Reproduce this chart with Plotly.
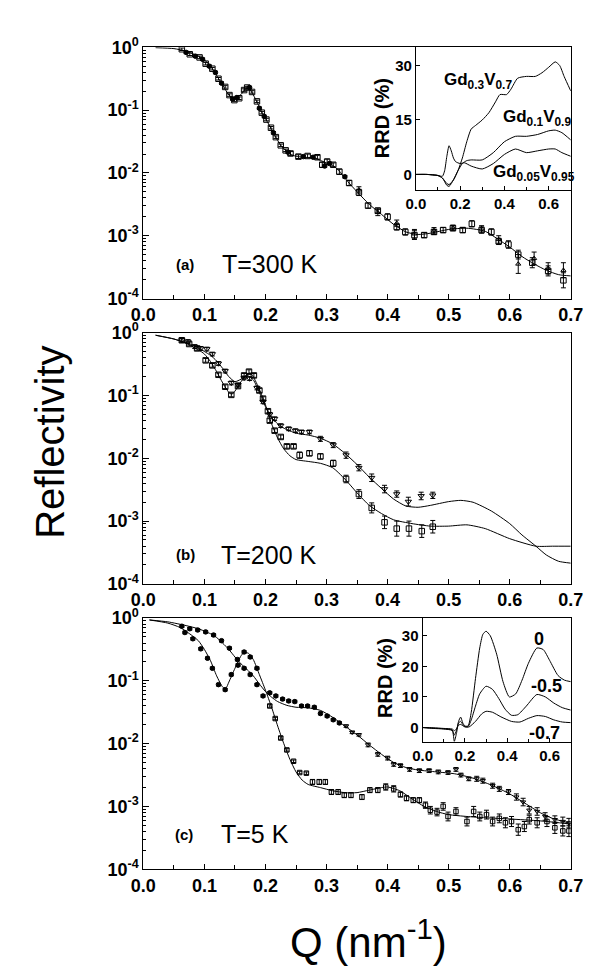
import numpy as np
import plotly.graph_objects as go

W, H = 592, 967
FONT = "Arial, Liberation Sans, sans-serif"

# ---------------- Panel (a) T=300 K ----------------
a_fit_Q = [0.02,0.05,0.07,0.09,0.10,0.11,0.12,0.13,0.14,0.15,0.16,0.168,0.175,0.185,0.195,0.205,0.215,0.225,0.235,0.245,0.26,0.28,0.29,0.30,0.31,0.32,0.335,0.35,0.37,0.39,0.41,0.43,0.45,0.47,0.50,0.53,0.56,0.58,0.60,0.62,0.64,0.66,0.68,0.70]
a_fit_logR = [-0.005,-0.02,-0.06,-0.14,-0.2,-0.3,-0.45,-0.6,-0.76,-0.82,-0.75,-0.66,-0.68,-0.85,-1.05,-1.22,-1.4,-1.56,-1.66,-1.72,-1.75,-1.76,-1.8,-1.84,-1.88,-1.96,-2.14,-2.3,-2.5,-2.66,-2.82,-2.94,-2.98,-2.96,-2.9,-2.88,-2.93,-3.05,-3.18,-3.33,-3.45,-3.55,-3.62,-3.64]

a1_Q = [0.063,0.076,0.092,0.102,0.113,0.123,0.134,0.141,0.149,0.157,0.165,0.170,0.178,0.186,0.194,0.2015,0.209,0.217,0.225,0.233,0.241,0.254,0.269,0.285,0.293,0.301,0.311,0.321,0.337,0.353,0.368,0.384,0.400,0.415,0.429,0.444,0.460,0.476,0.491,0.507,0.523,0.538,0.554,0.570,0.582,0.598,0.614,0.637,0.663,0.688]
a1_logR = [-0.03,-0.11,-0.16,-0.26,-0.34,-0.50,-0.63,-0.76,-0.84,-0.81,-0.68,-0.64,-0.71,-0.86,-1.04,-1.15,-1.28,-1.43,-1.56,-1.64,-1.69,-1.74,-1.73,-1.75,-1.87,-1.82,-1.87,-1.98,-2.16,-2.31,-2.52,-2.60,-2.70,-2.86,-2.94,-2.99,-2.99,-2.94,-2.91,-2.88,-2.91,-2.81,-2.91,-2.94,-3.09,-3.14,-3.30,-3.43,-3.56,-3.71]
a1_err = [0.02]*20 + [0.03,0.03,0.03,0.03,0.04,0.04,0.03,0.04,0.04,0.05,0.04,0.04,0.05,0.05,0.05,0.07,0.04,0.04,0.04,0.04,0.04,0.05,0.05,0.05,0.05,0.06,0.07,0.08,0.08,0.12]

a2_Q = [0.070,0.085,0.097,0.108,0.118,0.128,0.146,0.153,0.174,0.190,0.198,0.213,0.237,0.262,0.278,0.297,0.305,0.330,0.353,0.384,0.415,0.444,0.476,0.507,0.554,0.582,0.614,0.640,0.663,0.688]
a2_logR = [-0.08,-0.14,-0.19,-0.30,-0.40,-0.57,-0.82,-0.80,-0.64,-0.97,-1.10,-1.36,-1.67,-1.74,-1.75,-1.89,-1.85,-2.06,-2.27,-2.63,-2.80,-2.97,-2.92,-2.87,-2.89,-3.06,-3.45,-3.36,-3.52,-3.55]
a2_err = [0.02]*18 + [0.05,0.05,0.05,0.07,0.05,0.04,0.05,0.06,0.15,0.10,0.09,0.12]

# ---------------- Panel (b) T=200 K ----------------
b_fit1_Q = [0.02,0.05,0.07,0.09,0.10,0.11,0.12,0.13,0.14,0.15,0.16,0.17,0.18,0.19,0.20,0.21,0.22,0.23,0.25,0.27,0.29,0.31,0.33,0.35,0.37,0.39,0.41,0.43,0.45,0.47,0.50,0.52,0.54,0.57,0.60,0.62,0.643,0.66,0.68,0.70]
b_fit1_logR = [-0.04,-0.1,-0.16,-0.24,-0.3,-0.36,-0.45,-0.57,-0.7,-0.78,-0.74,-0.68,-0.75,-0.95,-1.18,-1.35,-1.45,-1.52,-1.6,-1.63,-1.68,-1.77,-1.92,-2.1,-2.3,-2.48,-2.65,-2.76,-2.78,-2.75,-2.69,-2.67,-2.7,-2.84,-3.04,-3.22,-3.40,-3.54,-3.64,-3.67]
b_fit2_Q = [0.02,0.05,0.07,0.09,0.10,0.11,0.12,0.13,0.14,0.145,0.15,0.16,0.17,0.175,0.18,0.19,0.20,0.21,0.22,0.23,0.24,0.25,0.27,0.29,0.31,0.33,0.35,0.37,0.39,0.41,0.44,0.47,0.50,0.53,0.56,0.60,0.643,0.67,0.70]
b_fit2_logR = [-0.04,-0.1,-0.17,-0.27,-0.34,-0.46,-0.62,-0.8,-0.95,-0.98,-0.93,-0.78,-0.66,-0.64,-0.7,-0.9,-1.15,-1.45,-1.68,-1.85,-1.96,-2.02,-2.05,-2.08,-2.15,-2.33,-2.55,-2.75,-2.88,-2.98,-3.04,-3.08,-3.08,-3.06,-3.12,-3.28,-3.40,-3.40,-3.40]

b1_Q = [0.063,0.073,0.084,0.094,0.104,0.113,0.123,0.134,0.144,0.155,0.165,0.174,0.186,0.196,0.207,0.215,0.225,0.238,0.249,0.259,0.272,0.290,0.311,0.332,0.353,0.374,0.395,0.415,0.434,0.455,0.474]
b1_logR = [-0.12,-0.14,-0.22,-0.25,-0.26,-0.34,-0.49,-0.61,-0.80,-0.83,-0.72,-0.73,-0.88,-1.10,-1.30,-1.37,-1.48,-1.53,-1.56,-1.58,-1.58,-1.69,-1.79,-1.95,-2.15,-2.31,-2.49,-2.57,-2.69,-2.60,-2.59]
b1_err = [0.03]*20 + [0.03,0.04,0.04,0.05,0.05,0.06,0.06,0.05,0.07,0.06,0.05]

b2_Q = [0.063,0.075,0.088,0.102,0.113,0.123,0.134,0.144,0.155,0.165,0.173,0.181,0.190,0.196,0.204,0.207,0.215,0.225,0.235,0.246,0.256,0.272,0.290,0.311,0.332,0.353,0.374,0.395,0.415,0.435,0.456,0.474]
b2_logR = [-0.12,-0.18,-0.25,-0.44,-0.52,-0.67,-0.86,-0.99,-0.85,-0.68,-0.62,-0.68,-0.92,-1.05,-1.25,-1.40,-1.56,-1.66,-1.81,-1.81,-1.95,-1.92,-1.97,-2.08,-2.33,-2.57,-2.79,-3.02,-3.12,-3.12,-3.16,-3.09]
b2_err = [0.03]*20 + [0.05,0.04,0.04,0.05,0.06,0.07,0.08,0.10,0.12,0.12,0.10,0.10]

# ---------------- Panel (c) T=5 K ----------------
c_fitA_Q = [0.01,0.04,0.06,0.08,0.09,0.10,0.11,0.12,0.13,0.135,0.14,0.15,0.16,0.165,0.172,0.18,0.19,0.20,0.21,0.22,0.23,0.24,0.25,0.26,0.27,0.29,0.31,0.33,0.35,0.37,0.39,0.40,0.42,0.44,0.46,0.48,0.50,0.53,0.56,0.60,0.65,0.70]
c_fitA_logR = [-0.03,-0.08,-0.15,-0.28,-0.36,-0.5,-0.68,-0.92,-1.1,-1.12,-1.02,-0.8,-0.6,-0.55,-0.56,-0.66,-0.9,-1.15,-1.42,-1.72,-2.0,-2.25,-2.45,-2.58,-2.65,-2.7,-2.75,-2.78,-2.78,-2.74,-2.7,-2.69,-2.75,-2.88,-3.0,-3.08,-3.13,-3.16,-3.18,-3.2,-3.23,-3.28]
c_fitB_Q = [0.01,0.04,0.07,0.09,0.11,0.12,0.13,0.14,0.15,0.16,0.17,0.18,0.19,0.20,0.21,0.22,0.235,0.25,0.27,0.29,0.31,0.33,0.35,0.37,0.39,0.41,0.43,0.45,0.48,0.51,0.54,0.57,0.60,0.63,0.65,0.67,0.70]
c_fitB_logR = [-0.03,-0.06,-0.12,-0.17,-0.25,-0.31,-0.4,-0.5,-0.62,-0.73,-0.82,-0.92,-1.05,-1.17,-1.26,-1.33,-1.39,-1.42,-1.43,-1.47,-1.58,-1.72,-1.86,-2.02,-2.17,-2.3,-2.38,-2.42,-2.45,-2.48,-2.55,-2.66,-2.8,-2.98,-3.1,-3.19,-3.27]

cA_Q = [0.068,0.081,0.094,0.105,0.113,0.123,0.134,0.144,0.155,0.165,0.175,0.186,0.196,0.207,0.216,0.225,0.235,0.246,0.256,0.267,0.277,0.288,0.298,0.308,0.319,0.329,0.340,0.358,0.371,0.384,0.397,0.410,0.421,0.431,0.442,0.452,0.462,0.470,0.481,0.491,0.499,0.512,0.530,0.541,0.551,0.562,0.572,0.583,0.593,0.603,0.614,0.624,0.632,0.645,0.661,0.674,0.687,0.697]
cA_logR = [-0.23,-0.33,-0.49,-0.64,-0.80,-1.06,-1.14,-0.90,-0.75,-0.54,-0.62,-0.80,-1.24,-1.40,-1.60,-1.91,-2.10,-2.28,-2.46,-2.47,-2.61,-2.61,-2.61,-2.77,-2.77,-2.82,-2.82,-2.85,-2.74,-2.74,-2.69,-2.72,-2.81,-2.87,-2.90,-2.90,-2.98,-3.06,-3.09,-3.00,-3.16,-3.08,-3.24,-3.08,-3.16,-3.13,-3.24,-3.19,-3.26,-3.24,-3.37,-3.32,-3.21,-3.26,-3.24,-3.34,-3.39,-3.39]
cA_err = [0.02]*20 + [0.04]*10 + [0.05,0.05,0.04,0.04,0.04,0.04,0.05,0.06,0.06,0.06,0.07,0.06,0.07,0.08,0.07,0.07,0.07,0.07,0.08,0.08,0.09,0.08,0.07,0.08,0.08,0.09,0.08,0.09]

cB_Q = [0.063,0.076,0.089,0.102,0.115,0.128,0.141,0.154,0.165,0.175,0.186,0.207,0.217,0.228,0.238,0.248,0.259,0.269,0.280,0.290,0.301,0.311,0.321,0.332,0.342,0.353,0.368,0.384,0.400,0.410,0.421,0.436,0.452,0.468,0.483,0.499,0.512,0.520,0.533,0.546,0.556,0.572,0.583,0.598,0.611,0.622,0.632,0.645,0.658,0.674,0.687,0.697]
cB_logR = [-0.13,-0.17,-0.19,-0.22,-0.27,-0.36,-0.48,-0.66,-0.80,-0.90,-1.06,-1.19,-1.24,-1.29,-1.32,-1.33,-1.40,-1.40,-1.42,-1.52,-1.56,-1.62,-1.67,-1.72,-1.82,-1.86,-2.02,-2.17,-2.23,-2.33,-2.35,-2.41,-2.43,-2.43,-2.45,-2.46,-2.41,-2.50,-2.56,-2.56,-2.59,-2.67,-2.72,-2.77,-2.85,-2.93,-3.06,-3.08,-3.16,-3.21,-3.24,-3.26]
cB_err = [0.02]*26 + [0.03]*10 + [0.03,0.03,0.03,0.04,0.04,0.04,0.04,0.04,0.05,0.06,0.06,0.06,0.06,0.06,0.07,0.07]

# ---------------- Inset (a): RRD ----------------
ia_gd03_Q = [0,0.05,0.1,0.12,0.14,0.15,0.17,0.19,0.21,0.23,0.25,0.27,0.3,0.33,0.36,0.38,0.41,0.43,0.46,0.5,0.54,0.57,0.6,0.63,0.65,0.67,0.7]
ia_gd03 = [0,0,-0.3,-1,-2.5,-2.8,-1.5,1,4.5,9,12.5,13.5,15,17,20,22,22,23.5,26.5,27,27,28,29.5,31,30,27,23]
ia_gd01_Q = [0,0.05,0.1,0.12,0.14,0.15,0.17,0.19,0.21,0.23,0.25,0.3,0.35,0.4,0.45,0.5,0.55,0.6,0.63,0.66,0.7]
ia_gd01 = [0,0,-0.3,-1,-3,-3.3,-1.5,1,3,3.8,4,4,6,9,10.5,10.5,11,12,12.2,11.5,9.5]
ia_gd005_Q = [0,0.05,0.1,0.12,0.13,0.14,0.15,0.16,0.17,0.18,0.2,0.22,0.25,0.3,0.35,0.4,0.45,0.5,0.55,0.6,0.63,0.66,0.7]
ia_gd005 = [0,0,-0.3,-0.5,1,5,7.9,6.5,4.5,3.5,3,3.2,2.3,1.5,3,5.5,7,6,6.5,7,7,6,5]

# ---------------- Inset (c): RRD ----------------
ic_0_Q = [0,0.05,0.1,0.14,0.15,0.16,0.17,0.18,0.19,0.2,0.215,0.23,0.25,0.27,0.285,0.3,0.32,0.35,0.38,0.41,0.44,0.47,0.5,0.54,0.57,0.6,0.64,0.67,0.7]
ic_0 = [0,-0.3,-0.5,-1,-4.5,-2,2,3.4,1.5,0.5,0.5,5,16,26,30.5,31.5,30,24,15,10,11,15.5,21,26,25.5,22,17,15.5,15]
ic_05_Q = [0,0.05,0.1,0.14,0.15,0.16,0.17,0.18,0.19,0.2,0.215,0.23,0.25,0.27,0.3,0.33,0.36,0.39,0.42,0.45,0.49,0.54,0.58,0.62,0.66,0.7]
ic_05 = [0,-0.2,-0.4,-0.8,-2.5,-1,1.5,2,1,0.3,0.3,2.5,7,11,13.5,12.5,9.5,6,4,4.2,7,10.8,10,8,6.5,5.7]
ic_07_Q = [0,0.05,0.1,0.14,0.15,0.16,0.17,0.18,0.2,0.22,0.25,0.28,0.3,0.33,0.37,0.42,0.46,0.5,0.54,0.58,0.62,0.66,0.7]
ic_07 = [0,-0.1,-0.3,-0.5,-1,-0.5,0.8,1,0.2,0.2,2,4.5,5.3,5,3.5,2,1.8,3,3.9,3.6,2.5,1.8,1.6]

y_tickvals = [1e-4, 1e-3, 1e-2, 1e-1, 1]
y_ticktext = ["10<sup>-4</sup>", "10<sup>-3</sup>", "10<sup>-2</sup>", "10<sup>-1</sup>", "10<sup>0</sup>"]

fig = go.Figure()


def fit_line(q, logr, ax):
    fig.add_trace(go.Scatter(x=q, y=10 ** np.array(logr), mode="lines",
                             line=dict(color="black", width=1, shape="spline", smoothing=0.6),
                             xaxis="x" + ax, yaxis="y" + ax, showlegend=False, hoverinfo="skip"))


def data_pts(q, logr, err, ax, sym_lo, sym_hi, qsplit, size=5.5):
    q = np.array(q)
    r = 10 ** np.array(logr)
    e = np.array(err)
    up = r * (10 ** e - 1)
    dn = r * (1 - 10 ** (-e))
    syms = [sym_lo if qq < qsplit else sym_hi for qq in q]
    fig.add_trace(go.Scatter(x=q, y=r, mode="markers",
                             marker=dict(symbol=syms, size=size, color="black",
                                         line=dict(color="black", width=1)),
                             error_y=dict(type="data", symmetric=False, array=up, arrayminus=dn,
                                          color="black", thickness=1, width=2.5),
                             xaxis="x" + ax, yaxis="y" + ax, showlegend=False))


# panel a (axis '')
fit_line(a_fit_Q, a_fit_logR, "")
data_pts(a1_Q, a1_logR, a1_err, "", "square-open", "square-open", 1.0)
data_pts(a2_Q, a2_logR, a2_err, "", "circle", "triangle-up-open", 0.35, size=4.5)
# panel b
fit_line(b_fit1_Q, b_fit1_logR, "2")
fit_line(b_fit2_Q, b_fit2_logR, "2")
data_pts(b1_Q, b1_logR, b1_err, "2", "triangle-down-open", "triangle-down-open", 1.0)
data_pts(b2_Q, b2_logR, b2_err, "2", "square-open", "square-open", 1.0)
# panel c
fit_line(c_fitA_Q, c_fitA_logR, "3")
fit_line(c_fitB_Q, c_fitB_logR, "3")
data_pts(cA_Q, cA_logR, cA_err, "3", "circle", "square-open", 0.2, size=4.5)
data_pts(cB_Q, cB_logR, cB_err, "3", "circle", "triangle-down-open", 0.33, size=4.5)

# insets
for q, v in [(ia_gd03_Q, ia_gd03), (ia_gd01_Q, ia_gd01), (ia_gd005_Q, ia_gd005)]:
    fig.add_trace(go.Scatter(x=q, y=v, mode="lines", line=dict(color="black", width=1, shape="spline", smoothing=0.6),
                             xaxis="x4", yaxis="y4", showlegend=False))
for q, v in [(ic_0_Q, ic_0), (ic_05_Q, ic_05), (ic_07_Q, ic_07)]:
    fig.add_trace(go.Scatter(x=q, y=v, mode="lines", line=dict(color="black", width=1, shape="spline", smoothing=0.6),
                             xaxis="x5", yaxis="y5", showlegend=False))


def px_x(a, b):
    return [a / W, b / W]


def px_y(top, bot):
    return [1 - bot / H, 1 - top / H]


tickfont = dict(family=FONT, size=18, color="black", weight="bold")
minor_y = [m * 10.0 ** k for k in range(-4, 0) for m in range(2, 10)]

main_x = dict(range=[0, 0.7], tick0=0, dtick=0.1, tickformat=".1f", ticks="inside", ticklen=5,
              tickwidth=1, tickcolor="black", showline=True, linecolor="black", linewidth=1,
              mirror=True, showgrid=False, zeroline=False, tickfont=tickfont,
              minor=dict(dtick=0.05, tick0=0, ticks="inside", ticklen=4, tickcolor="black", showgrid=False),
              domain=px_x(128, 575))
main_y = dict(type="log", range=[-4, 0], tickmode="array", tickvals=y_tickvals, ticktext=y_ticktext,
              ticks="inside", ticklen=6, tickwidth=1, tickcolor="black", showline=True, linecolor="black",
              linewidth=1, mirror=True, showgrid=False, zeroline=False, tickfont=tickfont,
              minor=dict(tickmode="array", tickvals=minor_y, ticks="inside", ticklen=3, tickcolor="black", showgrid=False))

layout = dict(width=W, height=H, margin=dict(l=0, r=0, t=0, b=0),
              paper_bgcolor="white", plot_bgcolor="rgba(0,0,0,0)", showlegend=False,
              font=dict(family=FONT, color="black"))
layout["xaxis"] = dict(main_x, anchor="y")
layout["yaxis"] = dict(main_y, anchor="x", domain=px_y(28, 285))
layout["xaxis2"] = dict(main_x, anchor="y2")
layout["yaxis2"] = dict(main_y, anchor="x2", domain=px_y(320, 577))
layout["xaxis3"] = dict(main_x, anchor="y3")
layout["yaxis3"] = dict(main_y, anchor="x3", domain=px_y(612, 869))

inset_font = dict(family=FONT, size=15, color="black", weight="bold")
inset_x = dict(range=[0, 0.7], tickmode="array", tickvals=[0, 0.2, 0.4, 0.6], tickformat=".1f",
               ticks="inside", ticklen=4, tickcolor="black", showline=True, linecolor="black", linewidth=1,
               mirror=True, showgrid=False, zeroline=False, tickfont=inset_font,
               minor=dict(tickmode="array", tickvals=[0.1, 0.3, 0.5], ticks="inside", ticklen=3, tickcolor="black"))
inset_y = dict(ticks="inside", ticklen=4, tickcolor="black", showline=True, linecolor="black", linewidth=1,
               mirror=True, showgrid=False, zeroline=False, tickfont=inset_font)
layout["xaxis4"] = dict(inset_x, anchor="y4", domain=px_x(413, 575))
layout["yaxis4"] = dict(inset_y, anchor="x4", domain=px_y(28, 174), range=[-4.3, 35],
                        tickmode="array", tickvals=[0, 15, 30])
layout["xaxis5"] = dict(inset_x, anchor="y5", domain=px_x(420, 575))
layout["yaxis5"] = dict(inset_y, anchor="x5", domain=px_y(612, 739), range=[-4.8, 35.8],
                        tickmode="array", tickvals=[0, 10, 20, 30])

fig.update_layout(**layout)


def ann(text, x, y, size, bold=False, angle=0):
    fig.add_annotation(text=text, x=x / W, y=1 - y / H, xref="paper", yref="paper",
                       showarrow=False, textangle=angle, xanchor="center", yanchor="middle",
                       font=dict(family=FONT, size=size, color="black", weight="bold" if bold else "normal"))


ann("Reflectivity", 30, 432, 40, angle=-90)
ann("Q (nm<sup>-1</sup>)", 363, 940, 42)
ann("(a)", 172, 250, 15, bold=True)
ann("T=300 K", 260, 250, 25)
ann("(b)", 172, 547, 15, bold=True)
ann("T=200 K", 259, 547, 25)
ann("(c)", 170, 833, 15, bold=True)
ann("T=5 K", 245, 833, 25)
ann("RRD (%)", 377, 100, 20, bold=True, angle=-90)
ann("Gd<sub>0.3</sub>V<sub>0.7</sub>", 478, 62, 17, bold=True)
ann("Gd<sub>0.1</sub>V<sub>0.9</sub>", 540, 100, 17, bold=True)
ann("Gd<sub>0.05</sub>V<sub>0.95</sub>", 537, 157, 17, bold=True)
ann("RRD (%)", 380, 673, 20, bold=True, angle=-90)
ann("0", 542, 633, 18, bold=True)
ann("-0.5", 550, 682, 18, bold=True)
ann("-0.7", 548, 730, 18, bold=True)

fig.write_html("out.html")
